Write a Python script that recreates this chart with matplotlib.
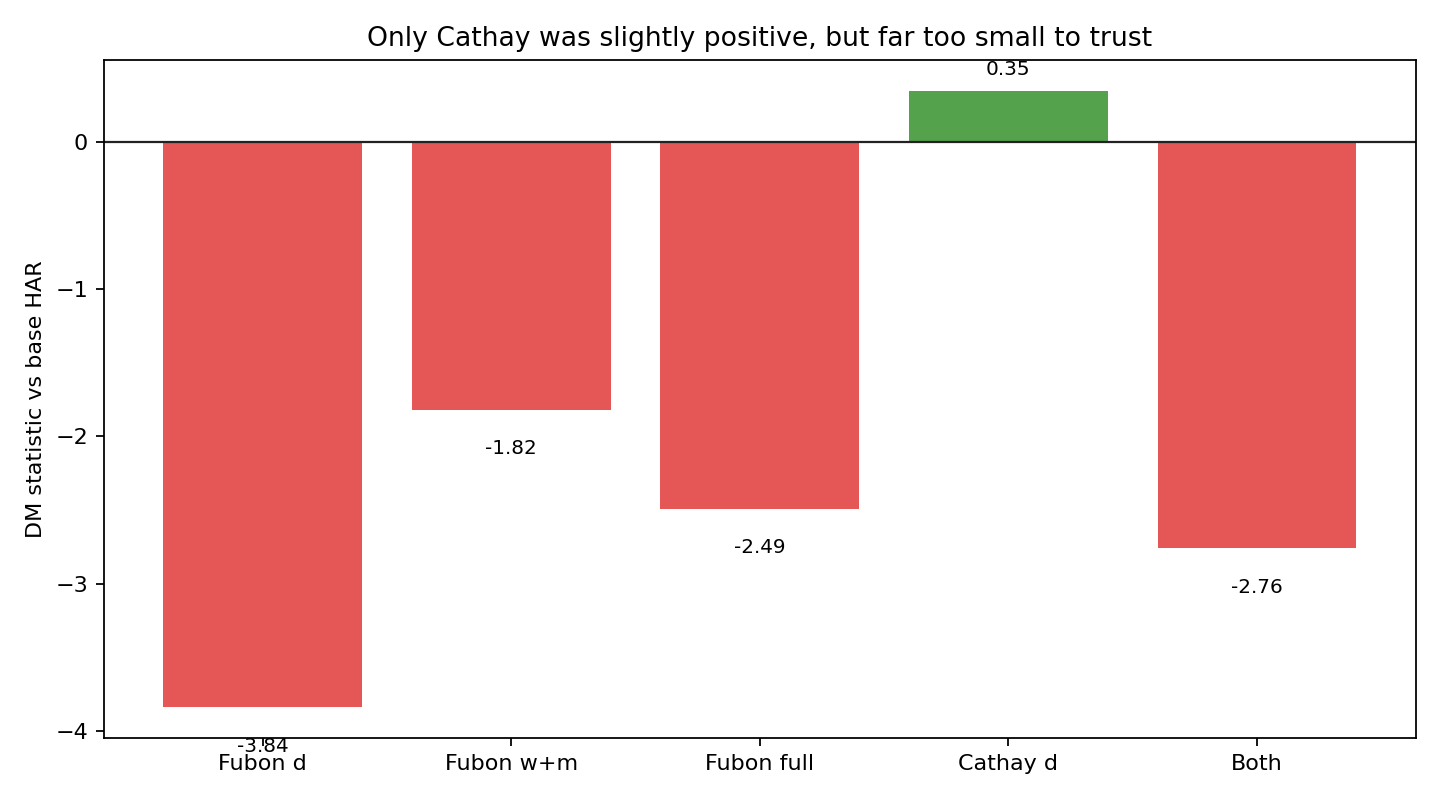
import numpy as np
import matplotlib
matplotlib.use("Agg")
import matplotlib.pyplot as plt

labels = ["Fubon d", "Fubon w+m", "Fubon full", "Cathay d", "Both"]
dm_stat = [-3.84, -1.82, -2.49, 0.35, -2.76]


def main():
    fig, ax = plt.subplots(figsize=(9, 5))
    x = np.arange(len(labels))
    colors = ["#54a24b" if v > 0 else "#e45756" for v in dm_stat]
    ax.bar(x, dm_stat, color=colors)
    ax.axhline(0, color="#222222", lw=1)
    for xi, v in zip(x, dm_stat):
        if v > 0:
            ax.text(xi, v + 0.08, f"{v:.2f}", ha="center", va="bottom", fontsize=9)
        else:
            ax.text(xi, v - 0.2, f"{v:.2f}", ha="center", va="top", fontsize=9)
    ax.set_xticks(x)
    ax.set_xticklabels(labels)
    ax.set_ylabel("DM statistic vs base HAR")
    ax.set_title("Only Cathay was slightly positive, but far too small to trust")
    fig.tight_layout()
    fig.savefig("out.png", dpi=160)
    plt.close(fig)


if __name__ == "__main__":
    main()
